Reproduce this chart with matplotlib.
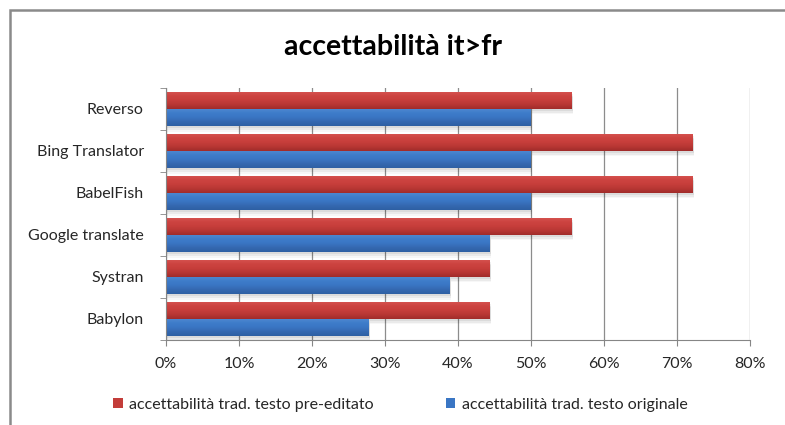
import numpy as np
import matplotlib
matplotlib.use("Agg")
import matplotlib.pyplot as plt
from matplotlib.patches import Rectangle

plt.rcParams['font.family'] = ['Lato', 'DejaVu Sans']

# data (fractions)
tools = ["Babylon", "Systran", "Google translate", "BabelFish", "Bing Translator", "Reverso"]
pre_edited = [0.444, 0.444, 0.556, 0.722, 0.722, 0.556]
original = [0.278, 0.389, 0.444, 0.500, 0.500, 0.500]
series_names = ["accettabilità trad. testo pre-editato", "accettabilità trad. testo originale"]
xticks = [0, 0.1, 0.2, 0.3, 0.4, 0.5, 0.6, 0.7, 0.8]

red_cols = ["#a02c2a", "#b83734", "#c73e3b", "#cd4441", "#d65451"]
blue_cols = ["#2e60a3", "#3569b1", "#3a76c4", "#3f7dca", "#5089d1"]


def gradient_bars(ax, bars, cols):
    # vertical gradient, dark at the bottom and lighter at the top
    cmap = matplotlib.colors.LinearSegmentedColormap.from_list("g", cols)
    grad = np.linspace(0, 1, 64).reshape(-1, 1)
    for b in bars:
        x, y = b.get_x(), b.get_y()
        w, h = b.get_width(), b.get_height()
        # soft shadow under the bar
        for k, a in [(0.05, 0.06), (0.09, 0.05), (0.13, 0.03)]:
            ax.add_patch(Rectangle((x, y - k), w + 0.002, h, color="#000000", alpha=a,
                                   lw=0, zorder=1.5))
        im = ax.imshow(grad, extent=(x, x + w, y, y + h), aspect="auto", cmap=cmap,
                       origin="lower", zorder=2, interpolation="bilinear")
        im.set_clip_path(b)


fig = plt.figure(figsize=(7.85, 4.25), dpi=100)
ax = fig.add_axes([0.2115, 0.2, 0.7435, 0.593])

y = np.arange(len(tools))
h = 0.41
bars_red = ax.barh(y + h / 2, pre_edited, height=h, color="#c33d3a", zorder=2,
                   label=series_names[0])
bars_blue = ax.barh(y - h / 2, original, height=h, color="#3a76c4", zorder=2,
                    label=series_names[1])
gradient_bars(ax, bars_red, red_cols)
gradient_bars(ax, bars_blue, blue_cols)

ax.set_xlim(0, 0.8)
ax.set_ylim(-0.5, len(tools) - 0.5)
ax.set_xticks(xticks)
ax.set_xticklabels([f"{int(round(t * 100))}%" for t in xticks], fontsize=11.5, color="#262626")
ax.set_yticks(y)
ax.set_yticklabels(tools, fontsize=11.5, color="#262626")
ax.set_yticks(np.arange(-0.5, len(tools), 1), minor=True)
ax.tick_params(axis="y", which="major", length=0, pad=16)
ax.tick_params(axis="y", which="minor", length=4, color="#868686", direction="out")
ax.tick_params(axis="x", length=4, color="#868686", pad=8)
ax.grid(axis="x", color="#8c8c8c", lw=0.9, zorder=0)
ax.set_axisbelow(True)
for s in ["top", "right"]:
    ax.spines[s].set_visible(False)
for s in ["left", "bottom"]:
    ax.spines[s].set_color("#868686")

fig.text(0.5, 0.89, "accettabilità it>fr", ha="center", va="center",
         fontsize=20.5, fontweight="bold", color="#000000")

leg = fig.legend(handles=[bars_red, bars_blue], labels=series_names, loc="center",
                 bbox_to_anchor=(0.51, 0.048), ncol=2, frameon=False, fontsize=11.5,
                 handlelength=0.6, handleheight=0.6, handletextpad=0.4, columnspacing=4.5)
for t in leg.get_texts():
    t.set_color("#262626")

# chart frame: only left and top edges fall inside the picture
fig.patches.append(Rectangle((0.0125, -0.05), 1.1, 1.027, transform=fig.transFigure,
                             fill=False, edgecolor="#8a8a8a", lw=1.8))

fig.savefig("out.png", dpi=100)
